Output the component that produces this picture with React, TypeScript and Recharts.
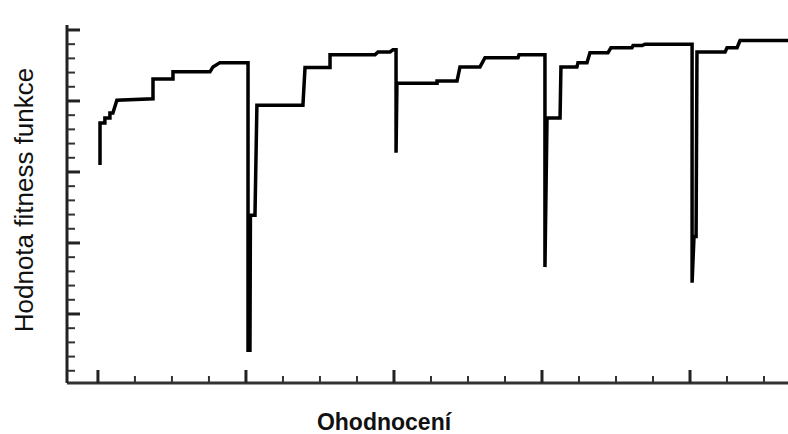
import { LineChart, Line, XAxis, YAxis } from "recharts";

// evaluations (x) and fitness value (y) at each corner of the trace
const evaluations = [
  14, 14, 47, 47, 81, 81, 101, 128, 372, 372, 507, 507, 757, 777, 824, 1014,
  1014, 1027, 1030, 1030, 1061, 1074, 1385, 1399, 1568, 1568, 1872, 1892, 1973, 1993, 2014,
  2014, 2020, 2291, 2291, 2426, 2446, 2581, 2615, 2838, 2845, 3020,
  3020, 3034, 3122, 3128, 3236, 3243, 3304, 3324, 3446, 3466, 3608, 3615, 3676, 3696, 4014,
  4014, 4027, 4041, 4047, 4237, 4250, 4318, 4338, 4662,
];
const fitness = [
  3.10, 3.69, 3.69, 3.76, 3.76, 3.83, 3.83, 4.01, 4.03, 4.31, 4.31, 4.41, 4.41, 4.48, 4.54, 4.54,
  0.49, 0.49, 2.30, 2.39, 2.39, 3.94, 3.94, 4.47, 4.47, 4.65, 4.65, 4.69, 4.69, 4.72, 4.72,
  3.27, 4.25, 4.25, 4.28, 4.28, 4.48, 4.48, 4.61, 4.61, 4.65, 4.65,
  1.66, 3.76, 3.76, 4.48, 4.48, 4.54, 4.54, 4.68, 4.68, 4.75, 4.75, 4.78, 4.78, 4.80, 4.80,
  1.44, 2.09, 2.09, 4.69, 4.69, 4.75, 4.75, 4.85, 4.85,
];

const xMajorTicks = [0, 1000, 2000, 3000, 4000];
const xMinorTicks = [250, 500, 750, 1250, 1500, 1750, 2250, 2500, 2750, 3250, 3500, 3750, 4250, 4500];
const yMajorTicks = [1, 2, 3, 4, 5];
const yMinorTicks = [0.2, 0.4, 0.6, 0.8, 1.2, 1.4, 1.6, 1.8, 2.2, 2.4, 2.6, 2.8, 3.2, 3.4, 3.6, 3.8, 4.2, 4.4, 4.6, 4.8];

const data = evaluations.map((x, i) => ({ x, y: fitness[i] }));

const xDomain = [-209, 4662];
const yDomain = [0.028, 5.07];
const noLabel = () => "";

export default function App() {
  return (
    <div style={{ position: "absolute", left: 0, top: 0, width: 788, height: 434, background: "#fff" }}>
      <LineChart width={788} height={434} data={data} margin={{ top: 25, right: 0, bottom: 51, left: 67 }}>
        <XAxis
          xAxisId="major" type="number" dataKey="x" domain={xDomain} allowDataOverflow
          ticks={xMajorTicks} interval={0} tickFormatter={noLabel} height={1} mirror
          tickSize={13} tickLine={{ stroke: "#222", strokeWidth: 3 }}
          axisLine={{ stroke: "#333", strokeWidth: 3 }}
        />
        <XAxis
          xAxisId="minor" type="number" dataKey="x" domain={xDomain} allowDataOverflow
          ticks={xMinorTicks} interval={0} tickFormatter={noLabel} height={1} mirror
          tickSize={6} tickLine={{ stroke: "#333", strokeWidth: 2 }} axisLine={false}
        />
        <YAxis
          yAxisId="major" type="number" domain={yDomain} allowDataOverflow
          ticks={yMajorTicks} interval={0} tickFormatter={noLabel} width={1} mirror
          tickSize={13} tickLine={{ stroke: "#222", strokeWidth: 3 }}
          axisLine={{ stroke: "#222", strokeWidth: 3 }}
        />
        <YAxis
          yAxisId="minor" type="number" domain={yDomain} allowDataOverflow
          ticks={yMinorTicks} interval={0} tickFormatter={noLabel} width={1} mirror
          tickSize={7} tickLine={{ stroke: "#333", strokeWidth: 2 }} axisLine={false}
        />
        <Line
          xAxisId="minor" yAxisId="minor" type="linear" dataKey="y"
          stroke="none" dot={false} activeDot={false} isAnimationActive={false}
        />
        <Line
          xAxisId="major" yAxisId="major" type="linear" dataKey="y"
          stroke="#000" strokeWidth={3.5} dot={false} activeDot={false} isAnimationActive={false}
        />
      </LineChart>
      <svg
        width={788} height={434}
        style={{ position: "absolute", left: 0, top: 0, pointerEvents: "none" }}
        fontFamily="'Liberation Sans', Arial, sans-serif" fill="#111"
      >
        <text transform="translate(33,200) rotate(-90)" textAnchor="middle" fontSize={26}>
          Hodnota fitness funkce
        </text>
        <text x={384} y={430} textAnchor="middle" fontSize={23} fontWeight="bold">
          Ohodnocení
        </text>
      </svg>
    </div>
  );
}
